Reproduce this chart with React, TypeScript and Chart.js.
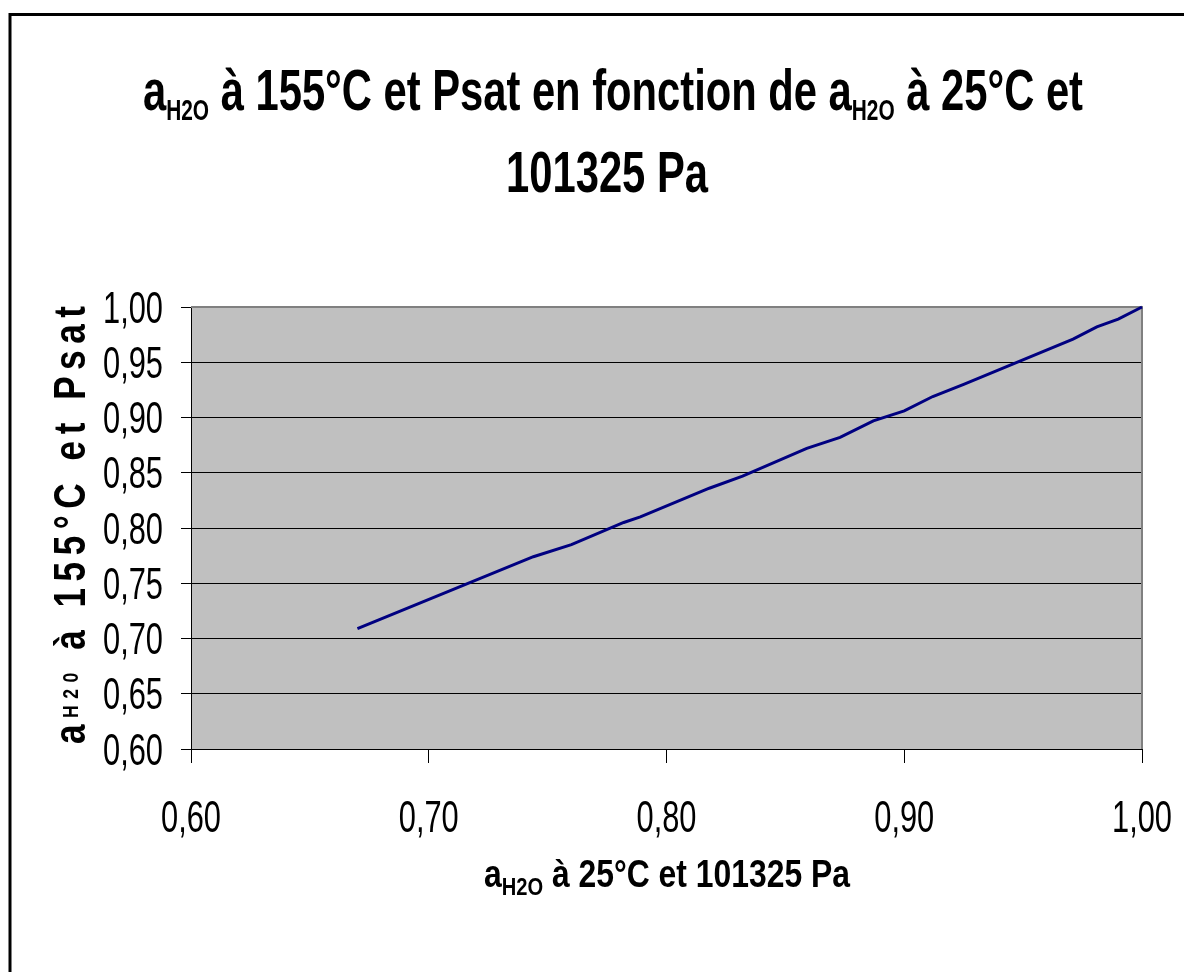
import { useEffect, useRef } from 'react';
import { Chart, registerables } from 'chart.js';

Chart.register(...registerables);

// ---- data ----
const xValues = [0.670, 0.744, 0.760, 0.782, 0.789, 0.818, 0.832, 0.859, 0.873, 0.887, 0.900, 0.912, 0.925, 0.971, 0.981, 0.990, 1.000];
const yValues = [0.709, 0.774, 0.785, 0.805, 0.810, 0.836, 0.847, 0.872, 0.882, 0.897, 0.906, 0.919, 0.930, 0.971, 0.982, 0.989, 1.000];

const xMin = 0.6;
const xMax = 1.0;
const xStep = 0.1;
const yMin = 0.6;
const yMax = 1.0;
const yStep = 0.05;

const titleLine1 = [
  { t: 'a', sub: false },
  { t: 'H2O', sub: true },
  { t: ' à 155°C et Psat en fonction de ', sub: false },
  { t: 'a', sub: false },
  { t: 'H2O', sub: true },
  { t: ' à 25°C et', sub: false },
];
const titleLine2 = [{ t: '101325 Pa', sub: false }];
const xTitle = [
  { t: 'a', sub: false },
  { t: 'H2O', sub: true },
  { t: ' à 25°C et 101325 Pa', sub: false },
];
const yTitleMain1 = 'a';
const yTitleSmall = 'H20';
const yTitleMain2 = ' à 155°C et Psat';

const FONT = "'Liberation Sans', Arial, sans-serif";
const W = 1184;
const H = 972;

type Part = { t: string; sub: boolean };

function measureParts(ctx: CanvasRenderingContext2D, parts: Part[], size: number, subSize: number) {
  let total = 0;
  const widths: number[] = [];
  for (const p of parts) {
    ctx.font = `bold ${p.sub ? subSize : size}px ${FONT}`;
    const w = ctx.measureText(p.t).width;
    widths.push(w);
    total += w;
  }
  return { total, widths };
}

function drawParts(
  ctx: CanvasRenderingContext2D,
  parts: Part[],
  size: number,
  subSize: number,
  subDy: number,
  cx: number,
  baseline: number,
  sx: number
) {
  const { total, widths } = measureParts(ctx, parts, size, subSize);
  ctx.save();
  ctx.translate(cx - (total * sx) / 2, baseline);
  ctx.scale(sx, 1);
  ctx.fillStyle = '#000';
  ctx.textBaseline = 'alphabetic';
  ctx.textAlign = 'left';
  let x = 0;
  parts.forEach((p, i) => {
    ctx.font = `bold ${p.sub ? subSize : size}px ${FONT}`;
    ctx.fillText(p.t, x, p.sub ? subDy : 0);
    x += widths[i];
  });
  ctx.restore();
}

const fmt = (v: number) => v.toFixed(2).replace('.', ',');

const decorPlugin = {
  id: 'decor',
  beforeDraw(chart: any) {
    const { ctx, chartArea: a } = chart;
    ctx.save();
    ctx.fillStyle = '#fff';
    ctx.fillRect(0, 0, W, H);
    ctx.fillStyle = '#C0C0C0';
    ctx.fillRect(a.left, a.top, a.right - a.left, a.bottom - a.top);
    ctx.restore();
  },
  beforeDatasetsDraw(chart: any) {
    const { ctx, chartArea: a } = chart;
    ctx.save();
    ctx.strokeStyle = '#808080';
    ctx.lineWidth = 2;
    ctx.beginPath();
    ctx.moveTo(a.left, a.top);
    ctx.lineTo(a.right, a.top);
    ctx.lineTo(a.right, a.bottom);
    ctx.stroke();
    ctx.restore();
  },
  afterDraw(chart: any) {
    const { ctx } = chart;
    const xs = chart.scales.x;
    const ys = chart.scales.y;
    ctx.save();

    // outer frame
    ctx.strokeStyle = '#000';
    ctx.lineWidth = 3;
    ctx.beginPath();
    ctx.moveTo(10, H + 10);
    ctx.lineTo(10, 14.5);
    ctx.lineTo(W + 10, 14.5);
    ctx.stroke();

    // main title
    const m1 = measureParts(ctx, titleLine1, 58, 29);
    const sxTitle = 940 / m1.total;
    drawParts(ctx, titleLine1, 58, 29, 10, 613, 110, sxTitle);
    drawParts(ctx, titleLine2, 58, 29, 10, 607, 192, sxTitle);

    // x title
    const mx = measureParts(ctx, xTitle, 38, 24);
    const sxX = 366 / mx.total;
    drawParts(ctx, xTitle, 38, 24, 8, 667, 887, sxX);

    // tick labels
    const tickSx = 0.7;
    ctx.fillStyle = '#000';
    ctx.font = `44px ${FONT}`;
    ctx.textBaseline = 'alphabetic';
    ys.ticks.forEach((t: any) => {
      const py = ys.getPixelForValue(t.value);
      const s = fmt(t.value);
      ctx.save();
      ctx.translate(163, py + 15.5);
      ctx.scale(tickSx, 1);
      ctx.textAlign = 'right';
      ctx.fillText(s, 0, 0);
      ctx.restore();
    });
    xs.ticks.forEach((t: any) => {
      const px = xs.getPixelForValue(t.value);
      const s = fmt(t.value);
      ctx.save();
      ctx.translate(px, 832);
      ctx.scale(tickSx, 1);
      ctx.textAlign = 'center';
      ctx.fillText(s, 0, 0);
      ctx.restore();
    });

    // y title (rotated, letter spaced)
    const mainSize = 44;
    const smallSize = 22;
    const along = 0.8;
    const chars: { c: string; small: boolean }[] = [];
    for (const c of yTitleMain1) chars.push({ c, small: false });
    for (const c of yTitleSmall) chars.push({ c, small: true });
    for (const c of yTitleMain2) chars.push({ c, small: false });
    const adv = chars.map((ch) => {
      ctx.font = `bold ${ch.small ? smallSize : mainSize}px ${FONT}`;
      return ctx.measureText(ch.c).width * along;
    });
    const natural = adv.reduce((s, v) => s + v, 0);
    const gap = (438 - natural) / (chars.length - 1);
    ctx.save();
    ctx.translate(85, 744);
    ctx.rotate(-Math.PI / 2);
    ctx.textAlign = 'left';
    ctx.textBaseline = 'alphabetic';
    let x = 0;
    chars.forEach((ch, i) => {
      ctx.font = `bold ${ch.small ? smallSize : mainSize}px ${FONT}`;
      ctx.save();
      ctx.translate(x, ch.small ? -7 : 0);
      ctx.scale(along, 1);
      ctx.fillText(ch.c, 0, 0);
      ctx.restore();
      x += adv[i] + gap;
    });
    ctx.restore();

    ctx.restore();
  },
};

export default function App() {
  const ref = useRef<HTMLCanvasElement | null>(null);
  useEffect(() => {
    if (!ref.current) return;
    const points = xValues.map((x, i) => ({ x, y: yValues[i] }));
    const chart = new Chart(ref.current, {
      type: 'scatter',
      data: {
        datasets: [
          {
            data: points,
            showLine: true,
            borderColor: '#000080',
            backgroundColor: '#000080',
            borderWidth: 3,
            pointRadius: 0,
            tension: 0,
            clip: false as any,
          },
        ],
      },
      options: {
        animation: false,
        responsive: false,
        devicePixelRatio: 1,
        layout: { padding: { left: 0, right: 42, top: 307, bottom: 0 } },
        plugins: {
          legend: { display: false },
          title: { display: false },
          tooltip: { enabled: false },
        },
        scales: {
          x: {
            type: 'linear',
            min: xMin,
            max: xMax,
            ticks: { stepSize: xStep, display: false },
            grid: { drawOnChartArea: false, drawTicks: true, tickLength: 14, tickColor: '#000', tickWidth: 1 },
            border: { display: true, color: '#000', width: 1 },
            afterFit: (s: any) => {
              s.height = 223;
            },
          },
          y: {
            type: 'linear',
            min: yMin,
            max: yMax,
            ticks: { stepSize: yStep, display: false },
            grid: { color: '#000', lineWidth: 1, drawTicks: true, tickLength: 10, tickColor: '#000', tickWidth: 1 },
            border: { display: true, color: '#000', width: 1 },
            afterFit: (s: any) => {
              s.width = 191;
            },
          },
        },
      } as any,
      plugins: [decorPlugin],
    });
    return () => chart.destroy();
  }, []);
  return (
    <div style={{ position: 'fixed', left: 0, top: 0, width: W, height: H, background: '#fff' }}>
      <canvas ref={ref} width={W} height={H} style={{ display: 'block' }} />
    </div>
  );
}
